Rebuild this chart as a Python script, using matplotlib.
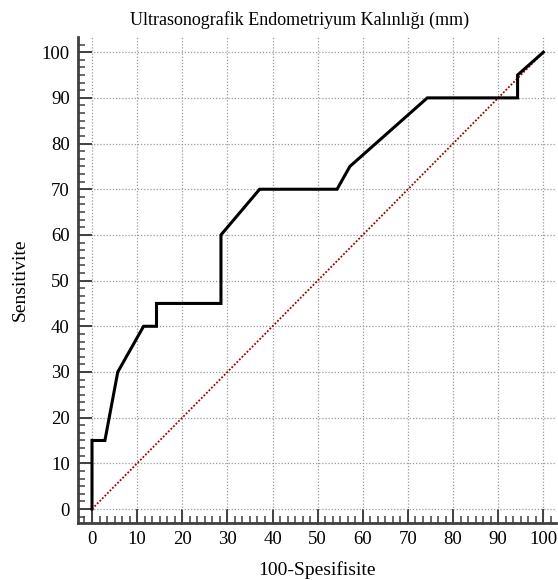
import matplotlib
matplotlib.use("Agg")
import matplotlib.pyplot as plt
from matplotlib.ticker import AutoMinorLocator

plt.rcParams['font.family'] = ['Liberation Serif', 'DejaVu Serif']

# ROC curve points (100-specificity, sensitivity)
fpr = [0, 0, 2.86, 5.71, 11.43, 14.29, 14.29, 28.57, 28.57, 37.14,
       54.29, 57.14, 74.29, 94.29, 94.29, 100]
tpr = [0, 15, 15, 30, 40, 40, 45, 45, 60, 70,
       70, 75, 90, 90, 95, 100]
diag = [0, 100]
ticks = list(range(0, 101, 10))

fig = plt.figure(figsize=(5.58, 5.80), dpi=100)
ax = fig.add_axes([0.1398, 0.0983, 0.8566, 0.8377])

ax.plot(diag, diag, color='#a00000', lw=1.3, ls=(0, (1, 1)), zorder=2)
ax.plot(fpr, tpr, color='black', lw=2.2, zorder=3, solid_joinstyle='miter')

ax.set_xlim(-3.1, 102.8)
ax.set_ylim(-3.06, 103.3)
ax.set_xticks(ticks)
ax.set_yticks(ticks)
ax.xaxis.set_minor_locator(AutoMinorLocator(6))
ax.yaxis.set_minor_locator(AutoMinorLocator(6))

ax.grid(True, which='major', color='#9a9a9a', lw=0.9, ls=(0, (1, 1.5)))
ax.set_axisbelow(True)

for s in ['top', 'right']:
    ax.spines[s].set_visible(False)
for s in ['left', 'bottom']:
    ax.spines[s].set_linewidth(2.0)
    ax.spines[s].set_color('#404040')

ax.tick_params(which='major', direction='in', length=10, width=1.4,
               color='#404040', labelsize=13.5, pad=6)
ax.tick_params(which='minor', direction='in', length=5, width=1.1,
               color='#404040')
ax.tick_params(axis='y', pad=6)

ax.set_xlabel('100-Spesifisite', fontsize=14, labelpad=9)
ax.set_ylabel('Sensitivite', fontsize=14, labelpad=9)
fig.text(300 / 558, 1 - 20 / 580, 'Ultrasonografik Endometriyum Kalınlığı (mm)',
         ha='center', va='center', fontsize=13)

fig.savefig('out.png', dpi=100)
